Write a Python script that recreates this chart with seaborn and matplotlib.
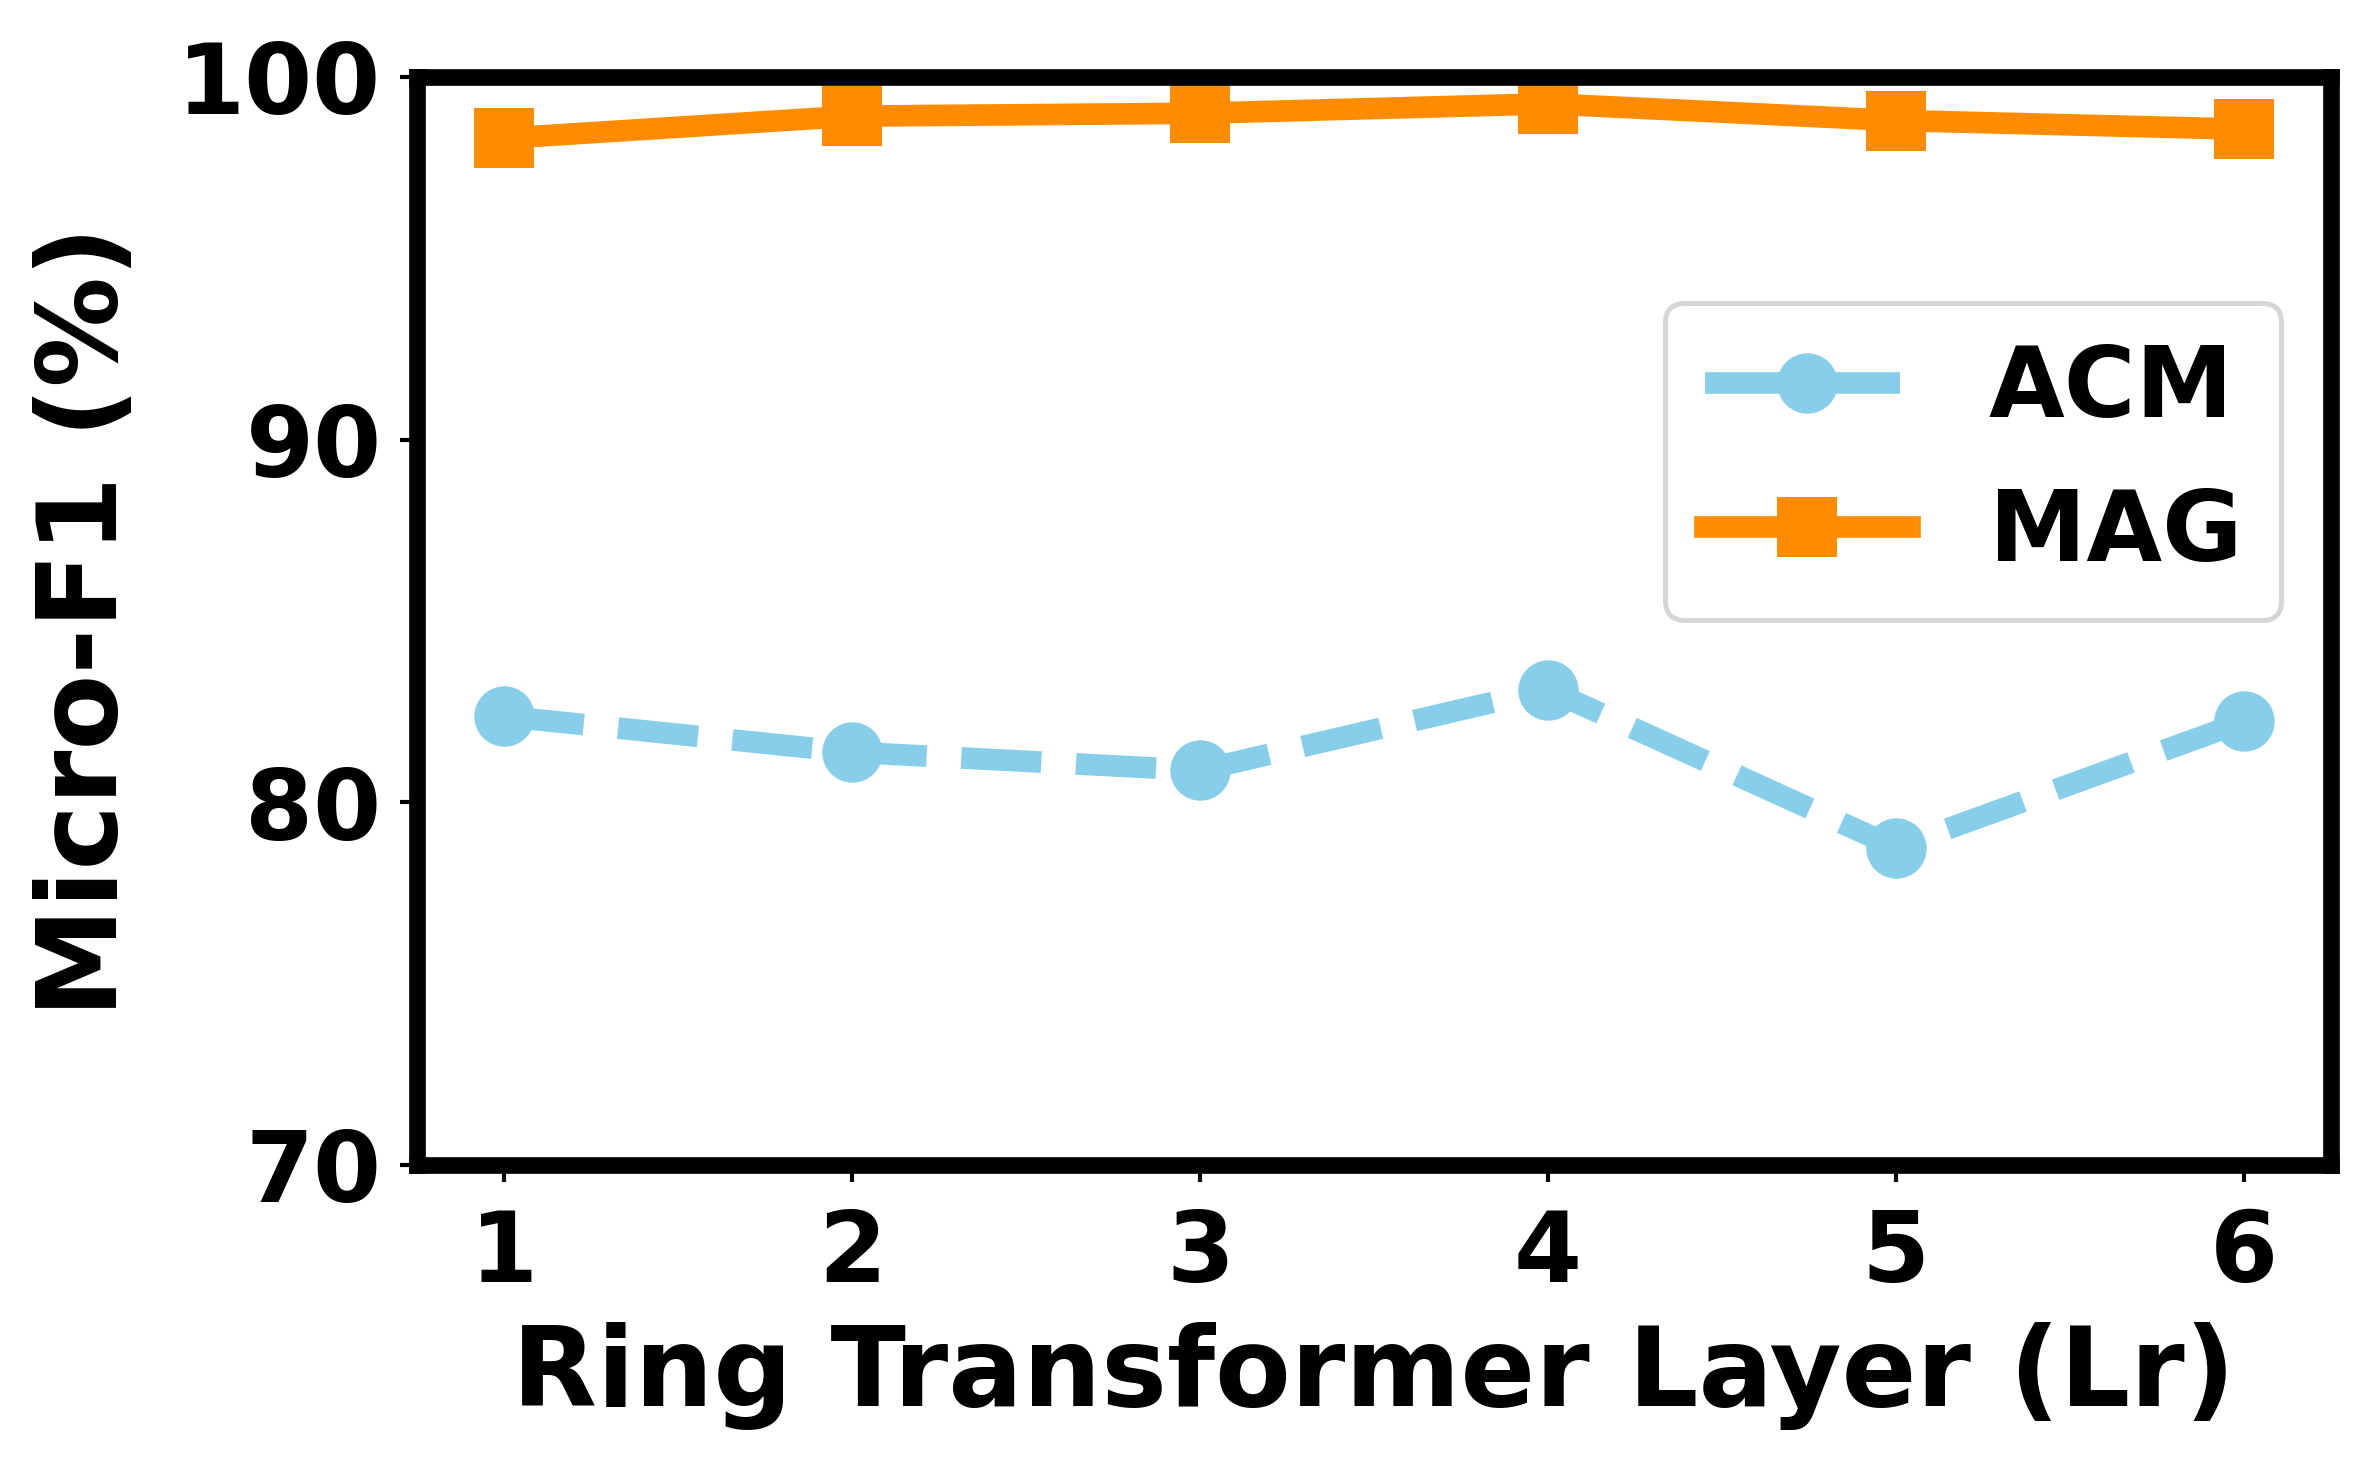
import numpy as np
import pandas as pd
import matplotlib
matplotlib.use("Agg")
import matplotlib.pyplot as plt
import seaborn as sns

layers = [1, 2, 3, 4, 5, 6]
acm = [82.37, 81.38, 80.88, 83.11, 78.75, 82.23]
mag = [98.31, 98.92, 99.00, 99.26, 98.80, 98.56]

sns.set_style("white")
plt.rcParams['font.family'] = ['DejaVu Sans']
plt.rcParams['font.weight'] = 'bold'
plt.rcParams['text.color'] = 'black'
plt.rcParams['axes.labelcolor'] = 'black'
plt.rcParams['xtick.color'] = 'black'
plt.rcParams['ytick.color'] = 'black'

fig = plt.figure(figsize=(2373 / 300, 1472 / 300), dpi=300)
ax = fig.add_axes([0.1757, 0.2086, 0.9823 - 0.1757, 0.9477 - 0.2086])

df = pd.DataFrame({'layer': layers, 'ACM': acm, 'MAG': mag})

sns.lineplot(data=df, x='layer', y='ACM', ax=ax, color='skyblue', marker='o',
             markersize=14.5, markeredgewidth=0, linewidth=5.2, linestyle='--',
             dash_capstyle='butt', solid_capstyle='projecting', label='ACM')
sns.lineplot(data=df, x='layer', y='MAG', ax=ax, color='darkorange', marker='s',
             markersize=14.5, markeredgewidth=0, linewidth=5.2, linestyle='-',
             dash_capstyle='butt', solid_capstyle='projecting', label='MAG')

ax.set_xlim(0.75, 6.25)
ax.set_ylim(70, 100)
ax.set_xticks(layers)
ax.set_yticks([70, 80, 90, 100])

ax.set_xlabel('Ring Transformer Layer (Lr)', fontsize=26.5, fontweight='bold', labelpad=5)
ax.set_ylabel('Micro-F1 (%)', fontsize=26.5, fontweight='bold', labelpad=9)
ax.tick_params(axis='both', labelsize=23.5, direction='out', length=4, width=1,
               left=True, bottom=True, color='black', labelcolor='black')
ax.tick_params(axis='x', pad=6)
ax.tick_params(axis='y', pad=4.5)
for lbl in ax.get_xticklabels() + ax.get_yticklabels():
    lbl.set_fontweight('bold')

for sp in ax.spines.values():
    sp.set_linewidth(4)
    sp.set_color('black')

leg = ax.legend(loc='upper right', bbox_to_anchor=(0.974, 0.7925), borderaxespad=0,
                frameon=True, fancybox=True, edgecolor='0.8', handlelength=2.1,
                prop={'weight': 'bold', 'size': 23.5})
leg.get_frame().set_linewidth(1.2)

fig.savefig('out.png', dpi=300)
